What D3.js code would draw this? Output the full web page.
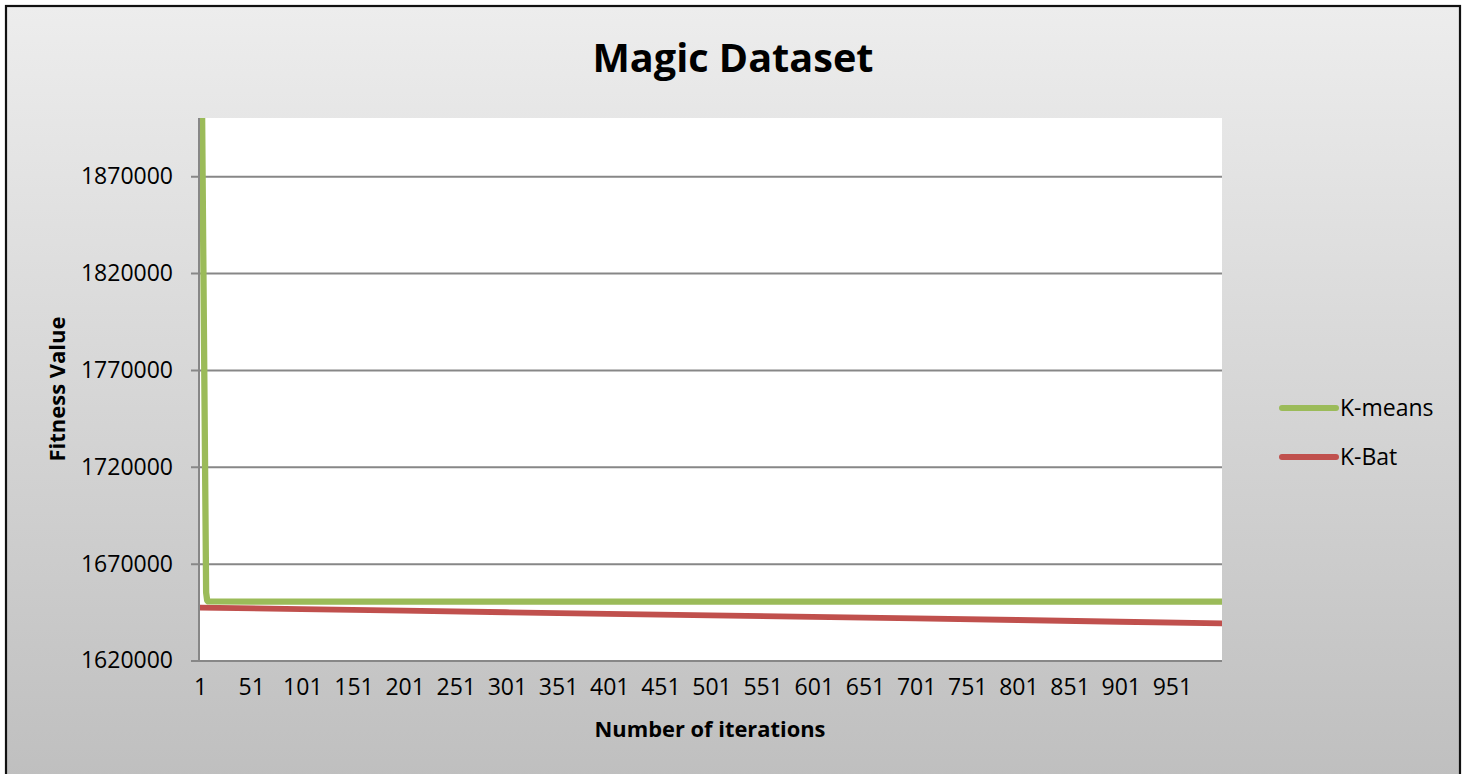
<!DOCTYPE html>
<html><head><meta charset="utf-8">
<script src="https://cdn.jsdelivr.net/npm/d3@7"></script>
<style>html,body{margin:0;padding:0;background:#fff;}svg{display:block;}</style>
</head><body>
<svg id="c" width="1466" height="774"></svg>
<script>
// ---- data ----
const title = "Magic Dataset";
const xTitle = "Number of iterations";
const yTitle = "Fitness Value";
const seriesNames = ["K-means", "K-Bat"];
const xTickLabels = [1,51,101,151,201,251,301,351,401,451,501,551,601,651,701,751,801,851,901,951];
const yTickValues = [1620000,1670000,1720000,1770000,1820000,1870000];
const kmeansIter = [1, 3, 5, 7, 8, 9, 50, 200, 400, 600, 800, 1000];
const kmeansVal  = [2030000, 1905000, 1780000, 1655000, 1651000, 1650500, 1650400, 1650400, 1650400, 1650400, 1650400, 1650400];
const kbatIter = [1, 100, 200, 300, 400, 500, 600, 700, 800, 900, 1000];
const kbatVal  = [1647300, 1646500, 1645700, 1644900, 1644100, 1643300, 1642500, 1641700, 1640900, 1640000, 1639200];

const W = 1466, H = 774;
const svg = d3.select("#c");
const FONT = "'Open Sans', 'Liberation Sans', sans-serif";

const defs = svg.append("defs");
const g = defs.append("linearGradient").attr("id","bg").attr("x1",0).attr("y1",0).attr("x2",0).attr("y2",1);
g.append("stop").attr("offset","0%").attr("stop-color","#ededed");
g.append("stop").attr("offset","100%").attr("stop-color","#bebebe");
defs.append("clipPath").attr("id","clip").append("rect")
  .attr("x",200).attr("y",118).attr("width",1022).attr("height",542.5);

svg.append("rect").attr("x",6).attr("y",6).attr("width",1454).attr("height",790)
  .attr("fill","url(#bg)").attr("stroke","#111").attr("stroke-width",2.2);

const m = {left:200, right:1222, top:118, bottom:660.5};
const x = d3.scaleLinear().domain([1,1000]).range([m.left, m.right]);
const y = d3.scaleLinear().domain([1620000,1900000]).range([m.bottom, m.top]);

svg.append("rect").attr("x",m.left).attr("y",m.top).attr("width",m.right-m.left).attr("height",m.bottom-m.top).attr("fill","#fff");

// grid + y axis
const yAxis = d3.axisLeft(y).tickValues(yTickValues).tickSize(-(m.right-m.left)).tickSizeOuter(0).tickPadding(18).tickFormat(d3.format("d"));
const ya = svg.append("g").attr("transform",`translate(${m.left},0)`).call(yAxis);
ya.select(".domain").remove();
ya.selectAll(".tick line").attr("stroke","#878787").attr("stroke-width",2).attr("x1",-9);
ya.selectAll(".tick text").attr("font-family",FONT).attr("font-size",23).attr("fill","#000").attr("x",-27);

svg.append("line").attr("x1",m.left-1).attr("x2",m.left-1).attr("y1",m.top).attr("y2",m.bottom)
  .attr("stroke","#878787").attr("stroke-width",2);

// x axis labels
const xAxis = d3.axisBottom(x).tickValues(xTickLabels).tickSize(0).tickPadding(18).tickFormat(d3.format("d"));
const xa = svg.append("g").attr("transform",`translate(0,${m.bottom})`).call(xAxis);
xa.select(".domain").remove();
xa.selectAll(".tick text").attr("font-family",FONT).attr("font-size",23).attr("fill","#000");

// lines
const line = d3.line().x(d=>x(d[0])).y(d=>y(d[1]));
const lines = svg.append("g").attr("clip-path","url(#clip)");
lines.append("path").datum(kbatIter.map((d,i)=>[d,kbatVal[i]]))
  .attr("d",line).attr("fill","none").attr("stroke","#c0504d").attr("stroke-width",5.8).attr("stroke-linejoin","round").attr("stroke-linecap","round");
lines.append("path").datum(kmeansIter.map((d,i)=>[d,kmeansVal[i]]))
  .attr("d",line).attr("fill","none").attr("stroke","#9bbb59").attr("stroke-width",6.3).attr("stroke-linejoin","round").attr("stroke-linecap","round");

// titles
svg.append("text").attr("x",733).attr("y",72).attr("text-anchor","middle")
  .attr("font-family",FONT).attr("font-weight","bold").attr("font-size",40)
  .attr("textLength",281).attr("lengthAdjust","spacingAndGlyphs").text(title);
svg.append("text").attr("x",710).attr("y",737).attr("text-anchor","middle")
  .attr("font-family",FONT).attr("font-weight","bold").attr("font-size",22)
  .attr("textLength",231).attr("lengthAdjust","spacingAndGlyphs").text(xTitle);
svg.append("text").attr("transform","translate(65,389) rotate(-90)").attr("text-anchor","middle")
  .attr("font-family",FONT).attr("font-weight","bold").attr("font-size",22)
  .attr("textLength",145).attr("lengthAdjust","spacingAndGlyphs").text(yTitle);

// legend
const colors = ["#9bbb59","#c0504d"];
const lg = svg.append("g");
seriesNames.forEach((n,i)=>{
  const yy = 408 + i*49;
  lg.append("line").attr("x1",1282).attr("x2",1336).attr("y1",yy).attr("y2",yy)
    .attr("stroke",colors[i]).attr("stroke-width",6).attr("stroke-linecap","round");
  lg.append("text").attr("x",1340).attr("y",yy).attr("dy","0.35em")
    .attr("font-family",FONT).attr("font-size",23).attr("fill","#000").text(n);
});
</script>
</body></html>
